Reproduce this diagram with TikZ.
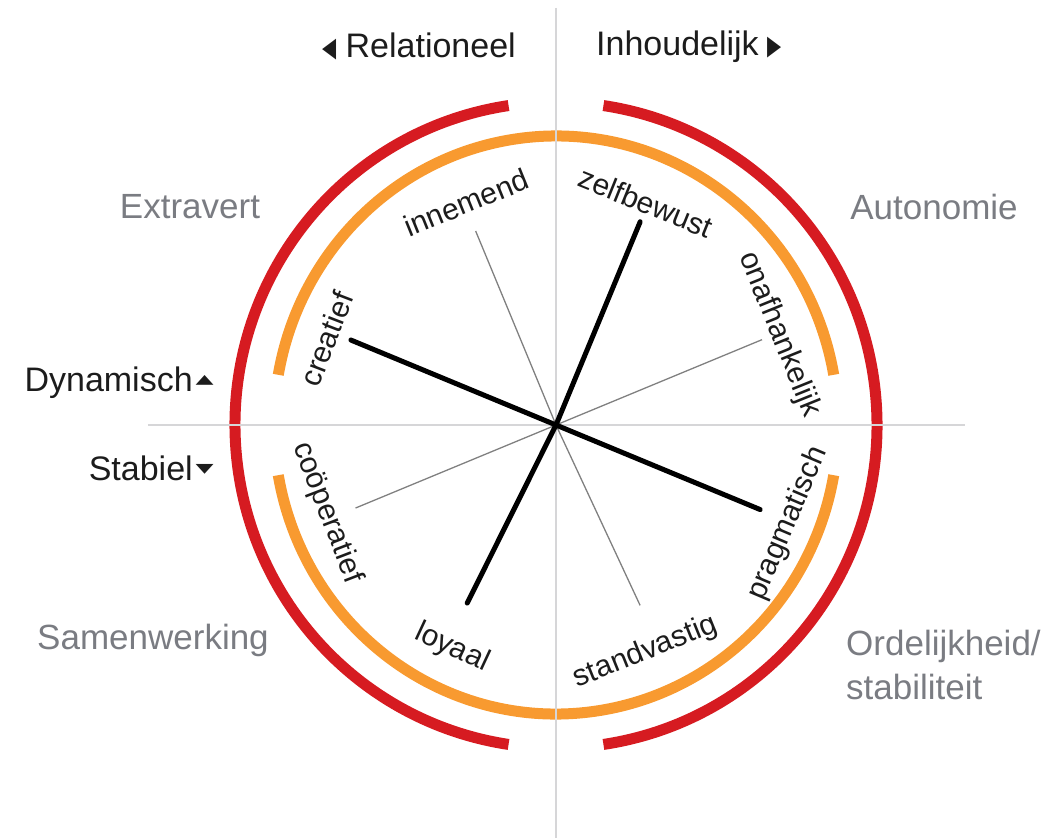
\documentclass[tikz,border=0pt]{standalone}
\usepackage{graphicx}
\usepackage{fontspec}
\setmainfont{Liberation Sans}
\newfontfamily\symfont{DejaVu Sans}
\definecolor{ringred}{RGB}{214,27,33}
\definecolor{ringorange}{RGB}{248,154,48}
\definecolor{axisgray}{RGB}{214,214,216}
\definecolor{spokegray}{RGB}{128,128,128}
\definecolor{labelgray}{RGB}{122,124,130}
\definecolor{textblack}{RGB}{28,28,28}
\newcommand{\sidetri}[1]{\raisebox{-3pt}{\scalebox{0.67}[1]{\symfont\fontsize{42}{42}\selectfont #1}}}
\newcommand{\flattri}[1]{\raisebox{6pt}{\scalebox{1}[0.55]{\symfont\fontsize{36}{36}\selectfont #1}}}
\begin{document}
\begin{tikzpicture}[x=1pt, y=1pt,
    ring/.style={line width=11},
    axis/.style={draw=axisgray, line width=1.8},
    spoke/.style={line width=5, line cap=round},
    thin spoke/.style={draw=spokegray, line width=1.3},
    trait/.style={inner sep=0pt, font=\fontsize{30}{30}\selectfont, text=textblack},
    pole/.style={inner sep=0pt, font=\fontsize{34}{34}\selectfont, text=textblack},
    side/.style={inner sep=0pt, font=\fontsize{35}{44}\selectfont, text=labelgray, align=left}]

    \useasboundingbox (-556,-413) rectangle (492,425);

    % Rings
    \draw[ring, ringred] (98.5:321 and 323) arc[start angle=98.5, end angle=261.5, x radius=321, y radius=323];
    \draw[ring, ringred] (-81.5:321 and 323) arc[start angle=-81.5, end angle=81.5, x radius=321, y radius=323];
    \draw[ring, ringorange] (10:282 and 289) arc[start angle=10, end angle=170, x radius=282, y radius=289];
    \draw[ring, ringorange] (190:282 and 289) arc[start angle=190, end angle=350, x radius=282, y radius=289];

    % Axes
    \coordinate (c) at (0,0);
    \coordinate (top) at (0,417);
    \coordinate (bottom) at (0,-413);
    \coordinate (left) at (-408,0);
    \coordinate (right) at (409,0);
    \draw[axis] (top) -- (bottom);
    \draw[axis] (left) -- (right);

    % Spoke ends
    \coordinate (onafhankelijk end) at (22.5:223);
    \coordinate (zelfbewust end) at (67.5:220);
    \coordinate (innemend end) at (112.5:210);
    \coordinate (creatief end) at (157.5:222);
    \coordinate (cooperatief end) at (202.5:217);
    \coordinate (loyaal end) at (243.5:199);
    \coordinate (standvastig end) at (295:199);
    \coordinate (pragmatisch end) at (337.5:221);

    % Thin spokes
    \draw[thin spoke] (c) -- (onafhankelijk end);
    \draw[thin spoke] (c) -- (innemend end);
    \draw[thin spoke] (c) -- (cooperatief end);
    \draw[thin spoke] (c) -- (standvastig end);

    % Thick spokes
    \draw[spoke] (c) -- (zelfbewust end);
    \draw[spoke] (c) -- (creatief end);
    \draw[spoke] (c) -- (loyaal end);
    \draw[spoke] (c) -- (pragmatisch end);

    % Traits
    \node (onafhankelijk) [trait, rotate=-68] at (22:241) {onafhankelijk};
    \node (zelfbewust) [trait, rotate=-22] at (68:240) {zelfbewust};
    \node (innemend) [trait, rotate=22] at (112:240) {innemend};
    \node (creatief) [trait, rotate=69] at (159.5:245) {creatief};
    \node (cooperatief) [trait, rotate=-69] at (201:245) {coöperatief};
    \node (loyaal) [trait, rotate=-25] at (245:246) {loyaal};
    \node (standvastig) [trait, rotate=22] at (291.5:244) {standvastig};
    \node (pragmatisch) [trait, rotate=67] at (337:252) {pragmatisch};

    % Poles
    \node (relationeel) [pole, anchor=east] at (-40,378) {\sidetri{◂}\hspace{9pt}Relationeel};
    \node (inhoudelijk) [pole, anchor=west] at (40,378) {Inhoudelijk\hspace{9pt}\sidetri{▸}};
    \node (dynamisch) [pole, anchor=east] at (-342,42) {Dynamisch\hspace{3pt}\flattri{▴}};
    \node (stabiel) [pole, anchor=east] at (-342,-43) {Stabiel\hspace{3pt}\flattri{▾}};

    % Quadrants
    \node (extravert) [side] at (-366,218) {Extravert};
    \node (autonomie) [side] at (378,218) {Autonomie};
    \node (samenwerking) [side] at (-403,-215) {Samenwerking};
    \node (ordelijkheid) [side, anchor=west] at (290,-240) {Ordelijkheid/\\stabiliteit};

\end{tikzpicture}
\end{document}
